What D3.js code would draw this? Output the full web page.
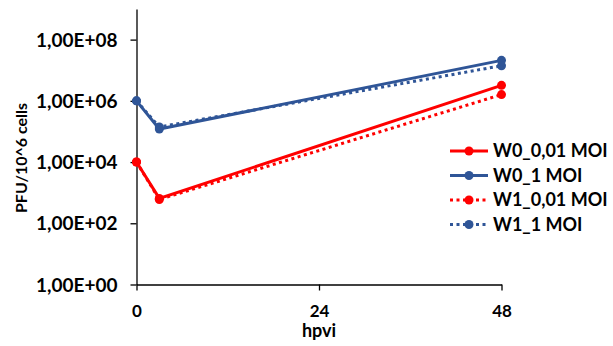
<!DOCTYPE html>
<html>
<head>
<meta charset="utf-8">
<script src="https://cdn.jsdelivr.net/npm/d3@7"></script>
<style>
  body { margin: 0; background: #fff; }
  text { font-family: Lato, "Open Sans", sans-serif; font-weight: bold; fill: #000; }
</style>
</head>
<body>
<svg id="chart" width="613" height="346"></svg>
<script>
// hours post virus inoculation
var hours = [0, 3, 48];
// PFU per 10^6 cells
var w0Low = [1e4, 6.5e2, 3.2e6];
var w0High = [1e6, 1.2e5, 2.1e7];
var w1Low = [1e4, 6.0e2, 1.6e6];
var w1High = [1e6, 1.4e5, 1.4e7];
var seriesNames = ["W0_0,01 MOI", "W0_1 MOI", "W1_0,01 MOI", "W1_1 MOI"];
var yTicks = [1, 1e2, 1e4, 1e6, 1e8];
var xTicks = [0, 24, 48];

var red = "#ff0000",
    blue = "#2f5597";

var series = [
    { name: seriesNames[0], values: w0Low, color: red, dotted: false },
    { name: seriesNames[1], values: w0High, color: blue, dotted: false },
    { name: seriesNames[2], values: w1Low, color: red, dotted: true },
    { name: seriesNames[3], values: w1High, color: blue, dotted: true }
];

var svg = d3.select("#chart");

var x = d3.scaleLinear().domain([0, 48]).range([136.5, 501.5]);
var y = d3.scaleLog().domain([1, 1e9]).range([284.5, 9]);

// axes
var yAxis = d3.axisLeft(y)
    .tickValues(yTicks)
    .tickSize(6)
    .tickSizeOuter(0)
    .tickFormat(function (d) {
        var e = Math.round(Math.log10(d));
        return "1,00E+" + (e < 10 ? "0" : "") + e;
    });
var xAxis = d3.axisBottom(x)
    .tickValues(xTicks)
    .tickSize(6)
    .tickSizeOuter(0);

var gy = svg.append("g").attr("transform", "translate(" + x(0) + ",0)").call(yAxis);
var gx = svg.append("g").attr("transform", "translate(0," + y(1) + ")").call(xAxis);

[gx, gy].forEach(function (g) {
    g.selectAll("path, line").attr("stroke", "#000").attr("stroke-width", 1.3);
    g.selectAll("text").attr("fill", "#000");
});
gy.selectAll("text").style("font-size", "19px").attr("x", -19).attr("dy", "0.35em");
gx.selectAll("text").style("font-size", "17px").attr("y", 0).attr("dy", "32px");

// axis titles
svg.append("text")
    .attr("transform", "translate(27,158) rotate(-90)")
    .attr("text-anchor", "middle")
    .style("font-size", "16px")
    .text("PFU/10^6 cells");
svg.append("text")
    .attr("x", x(24))
    .attr("y", 337)
    .attr("text-anchor", "middle")
    .style("font-size", "18px")
    .text("hpvi");

// lines, drawn so that solid ones sit under the dotted ones
var line = d3.line()
    .x(function (d, i) { return x(hours[i]); })
    .y(function (d) { return y(d); });

series.forEach(function (s) {
    svg.append("path")
        .datum(s.values)
        .attr("fill", "none")
        .attr("stroke", s.color)
        .attr("stroke-width", 3)
        .attr("stroke-dasharray", s.dotted ? "3,3.5" : null)
        .attr("d", line);
    svg.selectAll(null)
        .data(s.values)
        .enter()
        .append("circle")
        .attr("cx", function (d, i) { return x(hours[i]); })
        .attr("cy", function (d) { return y(d); })
        .attr("r", 4.5)
        .attr("fill", s.color);
});

// legend
var legend = svg.append("g").attr("transform", "translate(450,151)");
series.forEach(function (s, i) {
    var row = legend.append("g").attr("transform", "translate(0," + (i * 24.5) + ")");
    row.append("line")
        .attr("x1", 0).attr("x2", 38)
        .attr("stroke", s.color)
        .attr("stroke-width", 3)
        .attr("stroke-dasharray", s.dotted ? "3,3.5" : null);
    row.append("circle").attr("cx", 19).attr("r", 4.5).attr("fill", s.color);
    row.append("text")
        .attr("x", 43)
        .attr("dy", "0.35em")
        .style("font-size", "18px")
        .text(s.name);
});
</script>
</body>
</html>
